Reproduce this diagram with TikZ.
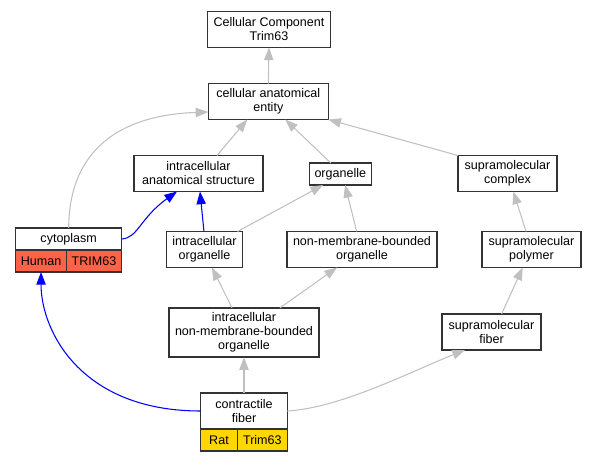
\documentclass[tikz,border=0pt]{standalone}
\usepackage{fontspec}
\setmainfont{Liberation Sans}
\usepackage{tikz}
\usetikzlibrary{positioning,arrows.meta}
\definecolor{humancol}{HTML}{FF6347}
\definecolor{ratcol}{HTML}{FFD700}
\definecolor{edgegray}{HTML}{C0C0C0}
\tikzset{
  term/.style={rectangle, draw=black!80, line width=1.1pt, fill=white, inner sep=0pt, outer sep=0pt,
               minimum height=27pt, align=center, font=\fontsize{9.4}{10.5}\selectfont},
  cell/.style={term, minimum height=16.5pt, anchor=north west},
  isa/.style={-{Triangle[length=9.5pt, width=7pt]}, edgegray, line width=0.8pt},
  gene/.style={-{Triangle[length=9.5pt, width=7pt]}, blue, line width=0.8pt},
}

\begin{document}
\begin{tikzpicture}[x=0.75pt, y=-0.75pt]
  \useasboundingbox (0,0) rectangle (597,461);

  \node[term, minimum width=92.25pt] (cc) at (269,29.5) {Cellular Component\\Trim63};
  \node[term, minimum width=90pt] (cae) at (268.3,101.5) {cellular anatomical\\entity};
  \node[term, minimum width=96.75pt] (ias) at (198.5,173.5) {intracellular\\anatomical structure};
  \node[term, minimum width=46.5pt, minimum height=16.5pt] (org) at (340.3,174) {organelle};
  \node[term, minimum width=74.25pt] (smc) at (507.5,173.5) {supramolecular\\complex};

  \node[term, minimum width=79.5pt, minimum height=16.5pt] (cyto) at (68.7,239) {cytoplasm};
  \node[cell, fill=humancol, minimum width=38pt] (cytosp) at (cyto.south west) {Human};
  \node[cell, fill=humancol, minimum width=41.5pt] (cytogene) at (cytosp.north east) {TRIM63};

  \node[term, minimum width=57pt] (io) at (204.5,249.5) {intracellular\\organelle};
  \node[term, minimum width=112.5pt] (nmbo) at (362,249.5) {non-membrane-bounded\\organelle};
  \node[term, minimum width=74.25pt] (smp) at (531.5,249.5) {supramolecular\\polymer};
  \node[term, minimum width=112.5pt, minimum height=37pt] (inmbo) at (244,332.5) {intracellular\\non-membrane-bounded\\organelle};
  \node[term, minimum width=74.25pt] (smf) at (491.5,332) {supramolecular\\fiber};

  \node[term, minimum width=65pt] (cf) at (244,411) {contractile\\fiber};
  \node[cell, fill=ratcol, minimum width=27.5pt] (cfsp) at (cf.south west) {Rat};
  \node[cell, fill=ratcol, minimum width=37.5pt] (cfgene) at (cfsp.north east) {Trim63};

  % is_a links
  \draw[isa] (cae.north) -- (cc.south);
  \draw[isa] (cyto.north) .. controls (69,150) and (120,115) .. ([yshift=-7.9pt]cae.west);
  \draw[isa] ([xshift=13.9pt]ias.north) -- ([xshift=-15.75pt]cae.south);
  \draw[isa] ([xshift=-7.1pt]org.north) -- ([xshift=12.75pt]cae.south);
  \draw[isa] (smc.north west) -- (cae.south east);
  \draw[isa] ([xshift=-3.75pt]io.north east) -- ([xshift=-12.9pt]org.south);
  \draw[isa] ([xshift=-4pt]nmbo.north) -- ([xshift=3.6pt]org.south);
  \draw[isa] ([xshift=-4.1pt]smp.north) -- ([xshift=4.4pt]smc.south);
  \draw[isa] ([xshift=-9pt]inmbo.north) -- ([xshift=5.6pt]io.south);
  \draw[isa] ([xshift=27pt]inmbo.north) -- ([xshift=-18.75pt]nmbo.south);
  \draw[isa] ([xshift=7.6pt]smf.north) -- ([xshift=-6.6pt]smp.south);
  \draw[isa] (cf.north) -- (inmbo.south);
  \draw[isa] (cf.east) .. controls (340,408) and (410,372) .. ([xshift=-19.9pt]smf.south);

  % gene links
  \draw[gene] (cyto.east) .. controls (138,238) and (140,218) .. ([xshift=-16.1pt]ias.south);
  \draw[gene] ([xshift=-0.4pt]io.north) -- ([xshift=1.1pt]ias.south);
  \draw[gene] (cf.west) .. controls (80,411) and (41,330) .. (cytosp.south);
\end{tikzpicture}
\end{document}
